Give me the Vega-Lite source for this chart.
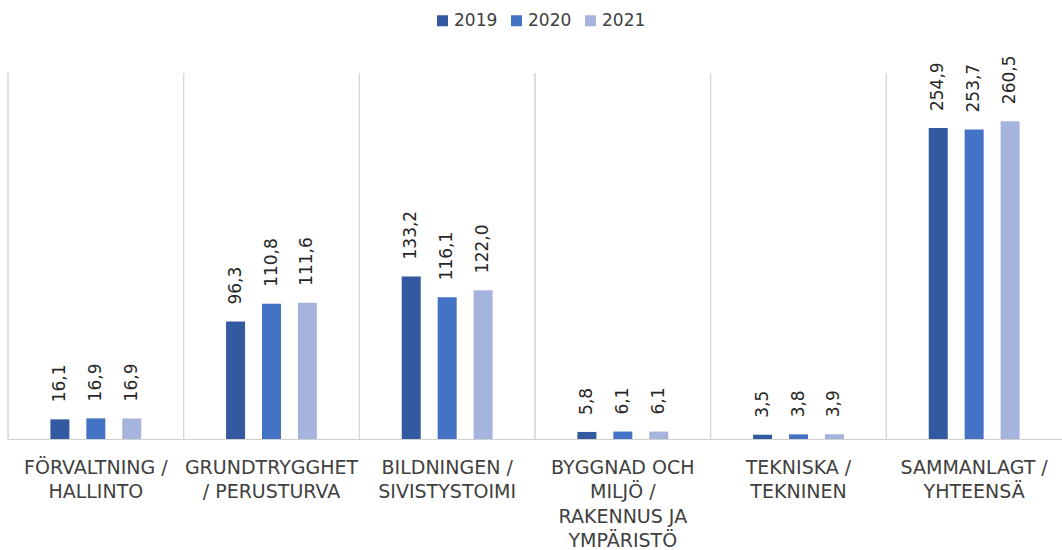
{
  "$schema": "https://vega.github.io/schema/vega-lite/v6.json",
  "autosize": {"type": "none"},
  "padding": {"left": 8, "top": 73, "right": 0, "bottom": 111},
  "width": 1054,
  "height": 366,
  "config": {
    "view": {"stroke": null},
    "locale": {"number": {"decimal": ",", "thousands": " ", "grouping": [3], "currency": ["", " €"]}},
    "font": "DejaVu Sans"
  },
  "data": {
    "values": [
      {"category": "FÖRVALTNING / HALLINTO", "year": "2019", "value": 16.1},
      {"category": "FÖRVALTNING / HALLINTO", "year": "2020", "value": 16.9},
      {"category": "FÖRVALTNING / HALLINTO", "year": "2021", "value": 16.9},
      {"category": "GRUNDTRYGGHET / PERUSTURVA", "year": "2019", "value": 96.3},
      {"category": "GRUNDTRYGGHET / PERUSTURVA", "year": "2020", "value": 110.8},
      {"category": "GRUNDTRYGGHET / PERUSTURVA", "year": "2021", "value": 111.6},
      {"category": "BILDNINGEN / SIVISTYSTOIMI", "year": "2019", "value": 133.2},
      {"category": "BILDNINGEN / SIVISTYSTOIMI", "year": "2020", "value": 116.1},
      {"category": "BILDNINGEN / SIVISTYSTOIMI", "year": "2021", "value": 122.0},
      {"category": "BYGGNAD OCH MILJÖ / RAKENNUS JA YMPÄRISTÖ", "year": "2019", "value": 5.8},
      {"category": "BYGGNAD OCH MILJÖ / RAKENNUS JA YMPÄRISTÖ", "year": "2020", "value": 6.1},
      {"category": "BYGGNAD OCH MILJÖ / RAKENNUS JA YMPÄRISTÖ", "year": "2021", "value": 6.1},
      {"category": "TEKNISKA / TEKNINEN", "year": "2019", "value": 3.5},
      {"category": "TEKNISKA / TEKNINEN", "year": "2020", "value": 3.8},
      {"category": "TEKNISKA / TEKNINEN", "year": "2021", "value": 3.9},
      {"category": "SAMMANLAGT / YHTEENSÄ", "year": "2019", "value": 254.9},
      {"category": "SAMMANLAGT / YHTEENSÄ", "year": "2020", "value": 253.7},
      {"category": "SAMMANLAGT / YHTEENSÄ", "year": "2021", "value": 260.5}
    ]
  },
  "encoding": {
    "x": {
      "field": "category",
      "type": "nominal",
      "sort": null,
      "scale": {"paddingInner": 0, "paddingOuter": 0},
      "axis": {
        "title": null,
        "labelAngle": 0,
        "ticks": false,
        "grid": false,
        "domainColor": "#d0d0d0",
        "labelFont": "DejaVu Sans",
        "labelFontSize": 19,
        "labelColor": "#404040",
        "labelPadding": 19,
        "labelLineHeight": 24.5,
        "labelBaseline": "top",
        "labelLimit": 0,
        "labelExpr": "({'FÖRVALTNING / HALLINTO': ['FÖRVALTNING /', 'HALLINTO'], 'GRUNDTRYGGHET / PERUSTURVA': ['GRUNDTRYGGHET', '/ PERUSTURVA'], 'BILDNINGEN / SIVISTYSTOIMI': ['BILDNINGEN /', 'SIVISTYSTOIMI'], 'BYGGNAD OCH MILJÖ / RAKENNUS JA YMPÄRISTÖ': ['BYGGNAD OCH', 'MILJÖ /', 'RAKENNUS JA', 'YMPÄRISTÖ'], 'TEKNISKA / TEKNINEN': ['TEKNISKA /', 'TEKNINEN'], 'SAMMANLAGT / YHTEENSÄ': ['SAMMANLAGT /', 'YHTEENSÄ']})[datum.value]"
      }
    }
  },
  "layer": [
    {
      "mark": {"type": "rule", "color": "#d9d9d9", "strokeWidth": 1},
      "encoding": {
        "x": {"field": "category", "type": "nominal", "sort": null, "bandPosition": 0}
      }
    },
    {
      "mark": {"type": "bar", "width": 19},
      "encoding": {
        "xOffset": {"field": "year", "type": "nominal", "scale": {"paddingInner": 0.111, "paddingOuter": 1}},
        "y": {"field": "value", "type": "quantitative", "scale": {"domain": [0, 300]}, "axis": null},
        "color": {
          "field": "year",
          "type": "nominal",
          "scale": {"domain": ["2019", "2020", "2021"], "range": ["#335aa1", "#4472c4", "#a5b4dc"]},
          "legend": {
            "title": null,
            "orient": "none",
            "direction": "horizontal",
            "legendX": 426,
            "legendY": -61,
            "symbolType": "square",
            "symbolSize": 121,
            "symbolStrokeWidth": 0,
            "labelFontSize": 17,
            "labelFont": "DejaVu Sans",
            "labelColor": "#404040",
            "labelOffset": 3,
            "columnPadding": 10
          }
        }
      }
    },
    {
      "mark": {"type": "text", "angle": -90, "align": "left", "baseline": "middle", "dx": 17, "fontSize": 17, "font": "DejaVu Sans", "color": "#262626"},
      "encoding": {
        "xOffset": {"field": "year", "type": "nominal", "scale": {"paddingInner": 0.111, "paddingOuter": 1}},
        "y": {"field": "value", "type": "quantitative", "scale": {"domain": [0, 300]}},
        "text": {"field": "value", "type": "quantitative", "format": ".1f"}
      }
    }
  ]
}
